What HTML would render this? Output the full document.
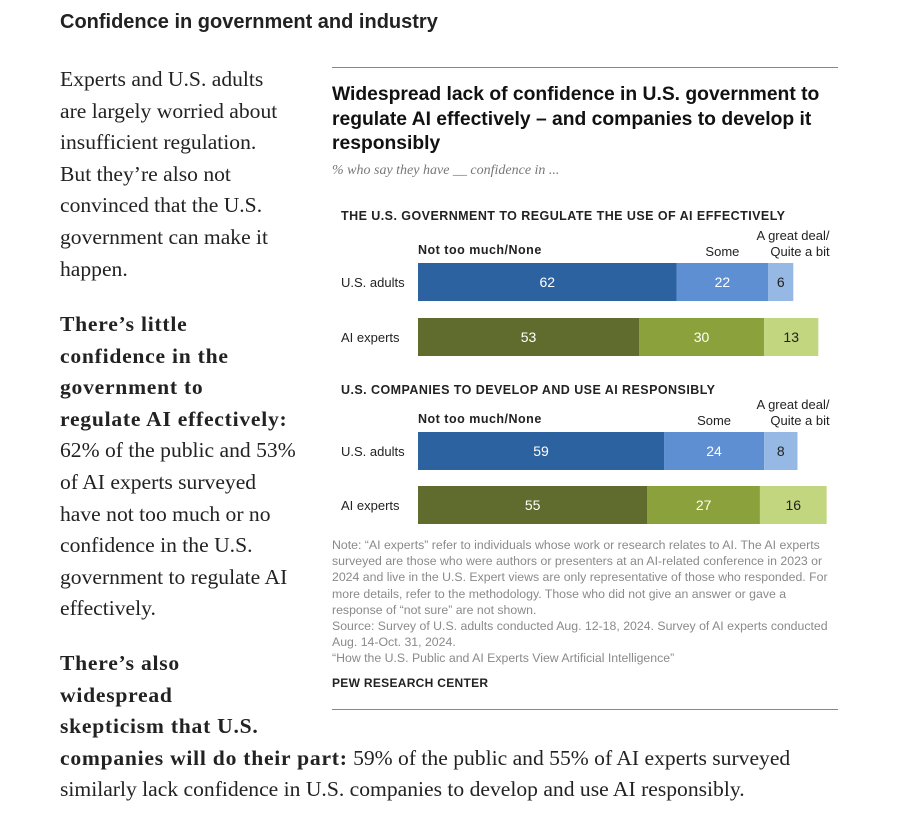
<!DOCTYPE html>
<html><head><meta charset="utf-8"><style>
body{margin:0;width:900px;height:826px;background:#fff;position:relative;overflow:hidden;font-family:"Liberation Sans",sans-serif}
.a{position:absolute;white-space:nowrap}
.serif{font-family:"Liberation Serif",serif;font-size:21.6px;color:#222;line-height:31.6px}
.serif b{letter-spacing:0.75px}
.note{font-size:12.3px;color:#8a8a8a;line-height:16.2px}
</style></head><body>
<div class="a" style="left:60px;top:11px;font-size:20px;font-weight:bold;color:#222">Confidence in government and industry</div>
<div class="a serif" style="left:60px;top:64px">Experts and U.S. adults<br>are largely worried about<br>insufficient regulation.<br>But they’re also not<br>convinced that the U.S.<br>government can make it<br>happen.</div>
<div class="a serif" style="left:60px;top:309px"><b>There’s little<br>confidence in the<br>government to<br>regulate AI effectively:</b><br>62% of the public and 53%<br>of AI experts surveyed<br>have not too much or no<br>confidence in the U.S.<br>government to regulate AI<br>effectively.</div>
<div class="a serif" style="left:60px;top:648px"><b>There’s also<br>widespread<br>skepticism that U.S.<br>companies will do their part:</b> 59% of the public and 55% of AI experts surveyed<br>similarly lack confidence in U.S. companies to develop and use AI responsibly.</div>

<div class="a" style="left:332px;top:67px;width:506px;height:1px;background:#888"></div>
<div class="a" style="left:332px;top:83px;font-size:19.3px;font-weight:bold;color:#111;line-height:24.5px">Widespread lack of confidence in U.S. government to<br>regulate AI effectively – and companies to develop it<br>responsibly</div>
<div class="a" style="left:332px;top:163px;font-family:'Liberation Serif',serif;font-style:italic;font-size:14px;color:#777">% who say they have __ confidence in ...</div>

<svg id="chart" class="a" style="left:0;top:0" width="900" height="826"></svg>

<div class="a note" style="left:332px;top:537px">Note: “AI experts” refer to individuals whose work or research relates to AI. The AI experts<br>surveyed are those who were authors or presenters at an AI-related conference in 2023 or<br>2024 and live in the U.S. Expert views are only representative of those who responded. For<br>more details, refer to the methodology. Those who did not give an answer or gave a<br>response of “not sure” are not shown.<br>Source: Survey of U.S. adults conducted Aug. 12-18, 2024. Survey of AI experts conducted<br>Aug. 14-Oct. 31, 2024.<br>“How the U.S. Public and AI Experts View Artificial Intelligence”</div>
<div class="a" style="left:332px;top:676px;font-size:12px;font-weight:bold;color:#222;letter-spacing:0.3px">PEW RESEARCH CENTER</div>
<div class="a" style="left:332px;top:709px;width:506px;height:1px;background:#888"></div>

<script>
const panels = ["THE U.S. GOVERNMENT TO REGULATE THE USE OF AI EFFECTIVELY","U.S. COMPANIES TO DEVELOP AND USE AI RESPONSIBLY"];
const groups = ["U.S. adults","AI experts"];
const notTooMuch = [62,53,59,55];
const some = [22,30,24,27];
const greatDeal = [6,13,8,16];
const NS="http://www.w3.org/2000/svg";
const svg=document.getElementById('chart');
const x0=418, k=4.17;
const xs=v=>x0+v*k;
const barY=[263,318,432,486], barH=38;
const panelTop=[208,382];
const colors=[["#2d62a0","#5d8fd2","#95b8e5"],["#5f6c2e","#8ba13b","#c2d57f"]];
const txtCol=[["#fff","#fff","#222"],["#fff","#fff","#222"]];
function t(x,y,s,o){const e=document.createElementNS(NS,'text');e.setAttribute('x',x);e.setAttribute('y',y);e.textContent=s;
 e.setAttribute('font-family','Liberation Sans, sans-serif');e.setAttribute('font-size',o.fs||13);e.setAttribute('fill',o.fill||'#222');
 if(o.bold)e.setAttribute('font-weight','bold');if(o.anchor)e.setAttribute('text-anchor',o.anchor);
 if(o.ls)e.setAttribute('letter-spacing',o.ls);svg.appendChild(e);return e;}
panels.forEach((p,pi)=>{
 const h=t(341,panelTop[pi]+12,p,{bold:true,fs:12.5,ls:0.45});
 
 
 const r0=pi*2, by=barY[r0];
 const l1=t(418,by-9,"Not too much/None",{bold:true,fs:12.5,ls:0.5});
 
 
 const sx=(xs(notTooMuch[r0])+xs(notTooMuch[r0]+some[r0]))/2;
 const l2=t(sx,by-7,"Some",{fs:13,anchor:'middle'});
 
 
 const l3=t(793,by-23,"A great deal/",{fs:13,anchor:'middle'});
 
 
 t(800,by-7,"Quite a bit",{fs:13,anchor:'middle'});
});
for(let i=0;i<4;i++){
 const pi=Math.floor(i/2), gi=i%2, y=barY[i];
 const lab=t(341,y+barH/2+5,groups[gi],{fs:13});
 
 
 const vals=[notTooMuch[i],some[i],greatDeal[i]];
 let cum=0;
 vals.forEach((v,si)=>{
  const r=document.createElementNS(NS,'rect');
  r.setAttribute('x',xs(cum));r.setAttribute('y',y);r.setAttribute('width',xs(cum+v)-xs(cum));r.setAttribute('height',barH);
  r.setAttribute('fill',colors[gi][si]);
  
  
  svg.appendChild(r);
  const vl=t((xs(cum)+xs(cum+v))/2,y+barH/2+5,String(v),{fs:14,fill:txtCol[gi][si],anchor:'middle'});
  
  
  cum+=v;
 });
}
</script>
</body></html>
